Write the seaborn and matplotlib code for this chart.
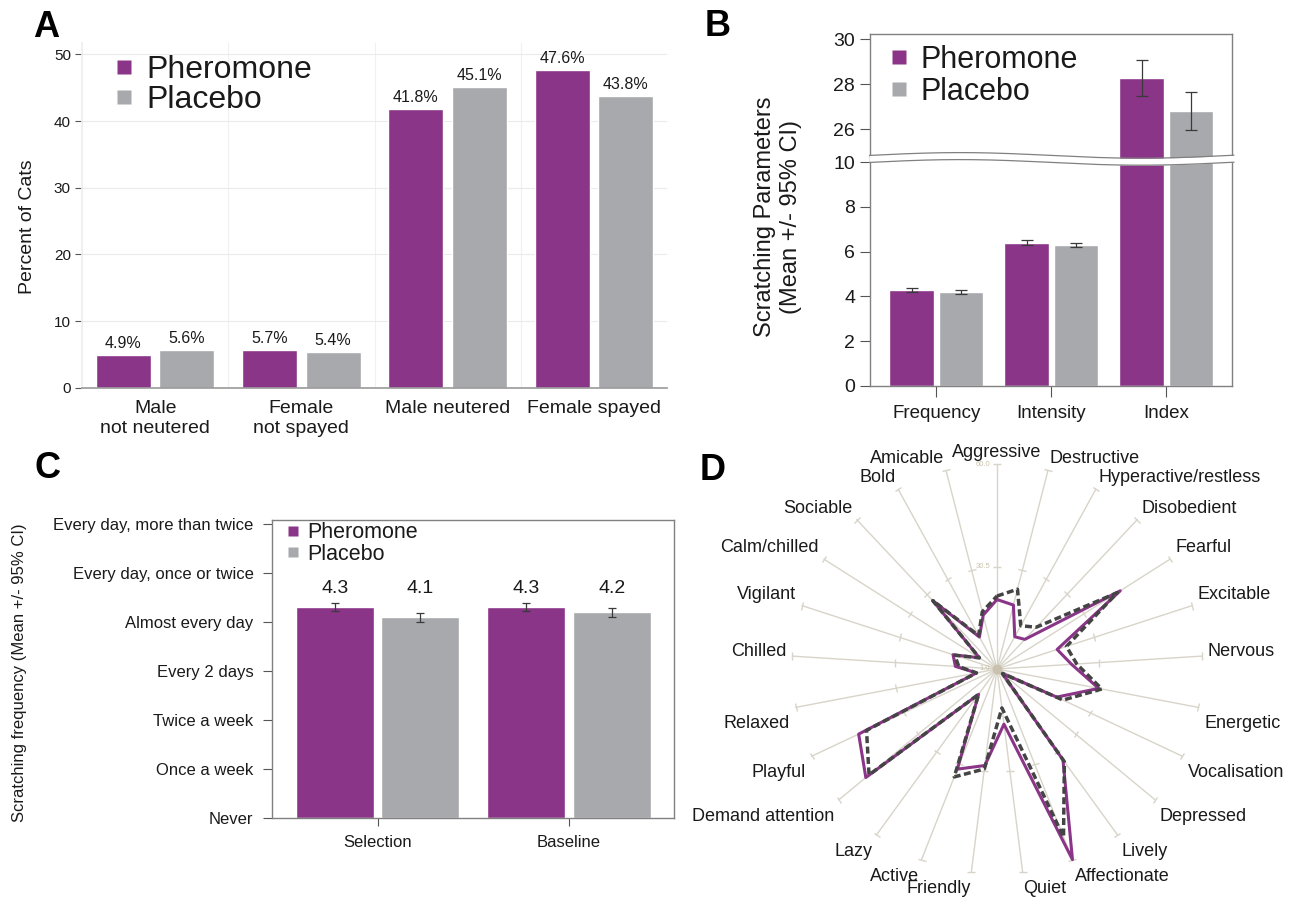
import numpy as np
import pandas as pd
import matplotlib
matplotlib.use("Agg")
import matplotlib.pyplot as plt
from matplotlib.lines import Line2D
from matplotlib.markers import MarkerStyle
from matplotlib.transforms import Affine2D
import seaborn as sns

# ---------------- data ----------------
groups = ["Pheromone", "Placebo"]

sex_categories = ["Male\nnot neutered", "Female\nnot spayed", "Male neutered", "Female spayed"]
sex_pheromone = [4.9, 5.7, 41.8, 47.6]
sex_placebo = [5.6, 5.4, 45.1, 43.8]

param_categories = ["Frequency", "Intensity", "Index"]
param_pheromone = [4.3, 6.4, 28.3]
param_placebo = [4.2, 6.3, 26.8]
param_pheromone_ci = [0.09, 0.10, 0.80]
param_placebo_ci = [0.09, 0.10, 0.85]

freq_categories = ["Selection", "Baseline"]
freq_pheromone = [4.3, 4.3]
freq_placebo = [4.1, 4.2]
freq_pheromone_ci = [0.08, 0.08]
freq_placebo_ci = [0.09, 0.09]
freq_levels = ["Never", "Once a week", "Twice a week", "Every 2 days",
               "Almost every day", "Every day, once or twice",
               "Every day, more than twice"]

traits = ["Aggressive", "Destructive", "Hyperactive/restless", "Disobedient",
          "Fearful", "Excitable", "Nervous", "Energetic", "Vocalisation",
          "Depressed", "Lively", "Affectionate", "Quiet", "Friendly", "Active",
          "Lazy", "Demand attention", "Playful", "Relaxed", "Chilled",
          "Vigilant", "Calm/chilled", "Sociable", "Bold", "Amicable"]
trait_pheromone = [21, 20, 11.6, 12.7, 43, 19.2, 22.5, 30.8, 20, 3,
                   33.3, 60, 17, 29, 32, 10, 50, 45, 7, 13,
                   14.3, 7, 28, 11.5, 17]
trait_placebo = [22, 24.7, 15.2, 17.5, 42, 22, 24, 31.7, 22, 3,
                 34, 53, 12.3, 30, 34.4, 10, 48.8, 42.5, 7, 12,
                 13.8, 7, 28, 12, 18]
radar_ticks = [1.0, 30.5, 60.0]

# ---------------- style ----------------
PURPLE = "#8a3587"
GREY = "#a7a9ac"
DASH = "#444444"
SPOKE = "#d8d4c9"
FRAME = "#808080"
TXT = "#1a1a1a"

sns.set_theme(style="white")
plt.rcParams["font.family"] = ["Liberation Sans", "DejaVu Sans"]
plt.rcParams["text.color"] = TXT
plt.rcParams["axes.labelcolor"] = TXT

W, H = 1298, 907
fig = plt.figure(figsize=(W / 100, H / 100), dpi=100)


def px_rect(left, top, right, bottom):
    return [left / W, 1 - bottom / H, (right - left) / W, (bottom - top) / H]


def fig_xy(x, y):
    return (x / W, 1 - y / H)


def long_frame(cats, a, b):
    return pd.DataFrame({
        "category": list(cats) * 2,
        "group": [groups[0]] * len(cats) + [groups[1]] * len(cats),
        "value": list(a) + list(b),
    })


def draw_bars(ax, df, width, gap):
    sns.barplot(data=df, x="category", y="value", hue="group", hue_order=groups,
                palette=[PURPLE, GREY], width=width, gap=gap, errorbar=None,
                saturation=1, legend=False, ax=ax, zorder=2)
    ax.set_xlabel("")
    ax.set_ylabel("")


def add_errorbars(ax, ci_a, ci_b, capsize):
    bars = list(ax.containers[:2])
    for cont, ci in zip(bars, (ci_a, ci_b)):
        xs = [p.get_x() + p.get_width() / 2 for p in cont.patches]
        ys = [p.get_height() for p in cont.patches]
        ax.errorbar(xs, ys, yerr=ci, fmt="none", ecolor="#3a3a3a",
                    elinewidth=0.9, capsize=capsize, capthick=0.9, zorder=4)


def square_legend(ax, fontsize, msize, upper_left_px, handlelength,
                  handletextpad, labelspacing):
    handles = [Line2D([], [], ls="none", marker="s", ms=msize, mfc=c, mec="none")
               for c in (PURPLE, GREY)]
    ax.legend(handles, groups, loc="upper left",
              bbox_to_anchor=fig_xy(*upper_left_px), bbox_transform=fig.transFigure,
              frameon=False, fontsize=fontsize, handlelength=handlelength,
              handletextpad=handletextpad, labelspacing=labelspacing,
              borderpad=0, borderaxespad=0)


# ---------------- A: sex / neuter status ----------------
axA = fig.add_axes(px_rect(82, 43, 667, 387.7))
draw_bars(axA, long_frame(sex_categories, sex_pheromone, sex_placebo), 0.87, 0.135)
axA.set_xlim(-0.5, 3.5)
axA.set_ylim(0, 51.7)
axA.set_yticks(range(0, 51, 10))
axA.set_axisbelow(True)
axA.yaxis.grid(True, color="#ebebeb", lw=0.8)
for xb in (0.5, 1.5, 2.5):
    axA.axvline(xb, color="#f0f0f0", lw=0.8, zorder=0)
for side in ("top", "right"):
    axA.spines[side].set_visible(False)
axA.spines["left"].set_color("#eeeeee")
axA.spines["bottom"].set_color("#999999")
axA.spines["bottom"].set_linewidth(1.2)
axA.tick_params(axis="y", left=True, length=5, width=0.8, color="#555555",
                labelsize=11, pad=3, labelcolor=TXT)
axA.tick_params(axis="x", length=0, labelsize=14, pad=9, labelcolor=TXT)
axA.set_ylabel("Percent of Cats", fontsize=14)
axA.yaxis.set_label_coords(-(82 - 28) / 585, 0.466)
axA.yaxis.label.set_verticalalignment("center")
for cont, vals in zip(list(axA.containers[:2]), (sex_pheromone, sex_placebo)):
    axA.bar_label(cont, labels=[f"{v:.1f}%" for v in vals], padding=3, fontsize=11.5)
square_legend(axA, 23, 10, (116, 55), 0.5, 0.45, 0.0)

# ---------------- B: scratching parameters (broken axis) ----------------
dfB = long_frame(param_categories, param_pheromone, param_placebo)
axBlo = fig.add_axes(px_rect(870.3, 155.6, 1232, 385.7))
axBhi = fig.add_axes(px_rect(870.3, 34.3, 1232, 155.6))
for ax in (axBlo, axBhi):
    draw_bars(ax, dfB, 0.86, 0.10)
    add_errorbars(ax, param_pheromone_ci, param_placebo_ci, capsize=4)
    ax.set_xlim(-0.575, 2.57)
    for s in ax.spines.values():
        s.set_color(FRAME)
        s.set_linewidth(1.0)
    ax.tick_params(axis="y", left=True, length=7, width=0.8, color="#555555",
                   labelsize=14, pad=4, labelcolor=TXT)
axBlo.set_ylim(0, 10.3)
axBlo.set_yticks(range(0, 11, 2))
axBhi.set_ylim(24.83, 30.22)
axBhi.set_yticks([26, 28, 30])
axBlo.spines["top"].set_visible(False)
axBhi.spines["bottom"].set_visible(False)
axBhi.tick_params(axis="x", bottom=False, labelbottom=False)
axBlo.tick_params(axis="x", bottom=True, length=8, width=0.8, color="#555555",
                  labelsize=13.5, pad=6, labelcolor=TXT)
square_legend(axBhi, 22, 9.5, (891, 45), 0.5, 0.45, 0.05)
fig.text(*fig_xy(778, 217), "Scratching Parameters\n(Mean +/- 95% CI)",
         rotation=90, ha="center", va="center", fontsize=17, linespacing=1.2,
         multialignment="center")

# wavy break band across the axis gap
axBrk = fig.add_axes(px_rect(860, 135, 1245, 175))
axBrk.set_xlim(860, 1245)
axBrk.set_ylim(175, 135)
axBrk.axis("off")
axBrk.patch.set_visible(False)
wx = np.linspace(869.5, 1234, 300)
wtop = 155.4 - 2.8 * np.sin(2 * np.pi * (wx - 870) / 360)
axBrk.fill_between(wx, wtop, wtop + 7, color="white", lw=0)
axBrk.plot(wx, wtop, color=FRAME, lw=0.9)
axBrk.plot(wx, wtop + 7, color=FRAME, lw=0.9)

# ---------------- C: scratching frequency ----------------
axC = fig.add_axes(px_rect(272.3, 520, 673.5, 818.3))
draw_bars(axC, long_frame(freq_categories, freq_pheromone, freq_placebo), 0.896, 0.09)
add_errorbars(axC, freq_pheromone_ci, freq_placebo_ci, capsize=3.2)
axC.set_xlim(-0.55, 1.547)
axC.set_ylim(0, 6.08)
axC.set_yticks(range(len(freq_levels)))
axC.set_yticklabels(freq_levels)
for s in axC.spines.values():
    s.set_color(FRAME)
    s.set_linewidth(1.0)
axC.tick_params(axis="y", left=True, length=6.5, width=0.8, color="#555555",
                labelsize=12, pad=7, labelcolor=TXT)
axC.tick_params(axis="x", bottom=True, length=6, width=0.8, color="#555555",
                labelsize=12, pad=6, labelcolor=TXT)
for cont, vals in zip(list(axC.containers[:2]), (freq_pheromone, freq_placebo)):
    for p, v in zip(cont.patches, vals):
        axC.text(p.get_x() + p.get_width() / 2, 4.68, f"{v:.1f}",
                 ha="center", va="center", fontsize=14)
square_legend(axC, 15.5, 7.2, (286.5, 522.5), 0.6, 0.35, 0.0)
fig.text(*fig_xy(19.5, 673), "Scratching frequency (Mean +/- 95% CI)",
         rotation=90, ha="center", va="center", fontsize=12)

# ---------------- D: personality radar ----------------
axD = fig.add_axes(px_rect(792, 464, 1202, 874), projection="polar")
axD.set_theta_zero_location("N")
axD.set_theta_direction(-1)
axD.set_ylim(1, 60)
axD.grid(False)
axD.set_xticks([])
axD.set_yticks([])
axD.spines["polar"].set_visible(False)
axD.patch.set_visible(False)

n = len(traits)
theta = np.arange(n) * 2 * np.pi / n
for t in theta:
    axD.plot([t, t], [1, 60], color=SPOKE, lw=1.0, zorder=1, clip_on=False)
    cap = MarkerStyle("_", transform=Affine2D().rotate_deg(-np.degrees(t)))
    axD.plot([t, t], [30.5, 60], ls="none", marker=cap, ms=5.5, mew=1.0,
             color=SPOKE, zorder=1, clip_on=False)

theta_c = np.append(theta, theta[0])
axD.plot(theta_c, trait_pheromone + trait_pheromone[:1], color=PURPLE, lw=2.2,
         zorder=3, clip_on=False)
axD.plot(theta_c, trait_placebo + trait_placebo[:1], color=DASH, lw=2.5,
         dashes=(2.0, 1.0), zorder=4, clip_on=False)
axD.plot([0], [1], "o", ms=6, color="#c9c0ad", zorder=5)

for r in radar_ticks:
    axD.annotate(f"{r:.1f}", xy=(0, r), xytext=(-5, 0), textcoords="offset points",
                 ha="right", va="center", fontsize=5.5, color="#cbc3ad")

for t, name in zip(theta, traits):
    s, c = np.sin(t), np.cos(t)
    if abs(s) < 0.05:
        ha = "center"
    else:
        ha = "left" if s > 0 else "right"
    dx = 6 * s
    if c > 0.2:
        va, dy = "bottom", 3
    elif c < -0.15:
        va, dy = "top", -8
    else:
        va, dy = "center", 5
    axD.annotate(name, xy=(t, 60), xytext=(dx * 0.72, dy * 0.72),
                 textcoords="offset points", ha=ha, va=va, fontsize=13,
                 color=TXT, annotation_clip=False)

# ---------------- panel letters ----------------
for letter, (x, y) in {"A": (33, 37), "B": (705, 36), "C": (35, 478), "D": (700, 480)}.items():
    fig.text(*fig_xy(x, y), letter, fontsize=26, fontweight="bold", ha="left",
             va="baseline", color="black")

fig.savefig("out.png", dpi=100)
